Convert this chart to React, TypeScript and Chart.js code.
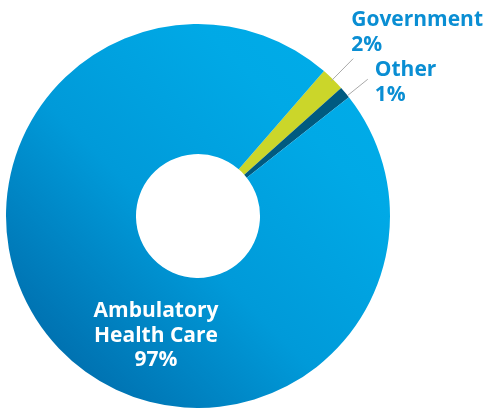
import React, { useEffect, useRef } from "react";
import { Chart, registerables } from "chart.js";

Chart.register(...registerables);

const categories = ["Government", "Other", "Ambulatory Health Care"];
const shares = [2, 1, 97];
const shareLabels = ["2%", "1%", "97%"];

const FONT = "'Open Sans', sans-serif";
const LABEL_BLUE = "#0a8ed3";

const labelPlugin = {
  id: "sliceLabels",
  afterDatasetsDraw(chart: any) {
    const ctx = chart.ctx as CanvasRenderingContext2D;
    const meta = chart.getDatasetMeta(0);
    ctx.save();
    const lineSpec = [
      { r0: -2, r1: 29 },
      { r0: 0, r1: 26 },
    ];
    const ends: { x: number; y: number }[] = [];
    for (let i = 0; i < 2; i++) {
      const arc = meta.data[i] as any;
      const { x, y, startAngle, endAngle, outerRadius } = arc.getProps(
        ["x", "y", "startAngle", "endAngle", "outerRadius"],
        true
      );
      const mid = (startAngle + endAngle) / 2 + (i === 1 ? 0.02 : 0);
      const a = outerRadius + lineSpec[i].r0;
      const b = outerRadius + lineSpec[i].r1;
      const sx = x + Math.cos(mid) * a;
      const sy = y + Math.sin(mid) * a;
      const ex = x + Math.cos(mid) * b;
      const ey = y + Math.sin(mid) * b;
      ctx.beginPath();
      ctx.moveTo(sx, sy);
      ctx.lineTo(ex, ey);
      ctx.strokeStyle = "#a9a9a9";
      ctx.lineWidth = 1;
      ctx.stroke();
      ends.push({ x: ex, y: ey });
    }
    ctx.font = `700 21px ${FONT}`;
    ctx.fillStyle = LABEL_BLUE;
    ctx.textAlign = "left";
    ctx.textBaseline = "alphabetic";
    ctx.fillText(categories[0], ends[0].x - 2, ends[0].y - 33);
    ctx.fillText(shareLabels[0], ends[0].x - 2, ends[0].y - 8);
    ctx.fillText(categories[1], ends[1].x + 7, ends[1].y - 3);
    ctx.fillText(shareLabels[1], ends[1].x + 7, ends[1].y + 22);

    const big = meta.data[2] as any;
    const { x: cx, y: cy } = big.getProps(["x", "y"], true);
    ctx.font = `700 21px ${FONT}`;
    ctx.fillStyle = "#ffffff";
    ctx.textAlign = "center";
    const bx = cx - 42;
    ctx.fillText("Ambulatory", bx, cy + 101);
    ctx.fillText("Health Care", bx, cy + 126);
    ctx.fillText(shareLabels[2], bx, cy + 150);
    ctx.restore();
  },
};

export default function App() {
  const ref = useRef<HTMLCanvasElement | null>(null);
  useEffect(() => {
    document.body.style.margin = "0";
    const canvas = ref.current!;
    const chart = new Chart(canvas, {
      type: "doughnut",
      data: {
        labels: categories,
        datasets: [
          {
            data: shares,
            borderWidth: 0,
            backgroundColor: (c: any) => {
              const ch = c.chart;
              const area = ch.chartArea;
              if (c.dataIndex === 0) return "#cbd62a";
              if (c.dataIndex === 1) return "#005a80";
              if (!area) return "#009fdf";
              const g = ch.ctx.createLinearGradient(
                area.left,
                area.bottom,
                area.right,
                area.top
              );
              g.addColorStop(0, "#005f9e");
              g.addColorStop(0.45, "#009ad9");
              g.addColorStop(0.75, "#00a9e6");
              g.addColorStop(1, "#00aeea");
              return g;
            },
          },
        ],
      },
      options: {
        animation: false,
        responsive: false,
        cutout: "32.3%",
        rotation: 41,
        layout: { padding: { left: 6, right: 94, top: 24, bottom: 0 } },
        plugins: {
          legend: { display: false },
          tooltip: { enabled: false },
        },
      },
      plugins: [labelPlugin],
    });
    return () => chart.destroy();
  }, []);
  return (
    <div style={{ position: "absolute", left: 0, top: 0, width: 484, height: 408, background: "#fff" }}>
      <canvas ref={ref} width={484} height={408} style={{ width: 484, height: 408 }} />
    </div>
  );
}
